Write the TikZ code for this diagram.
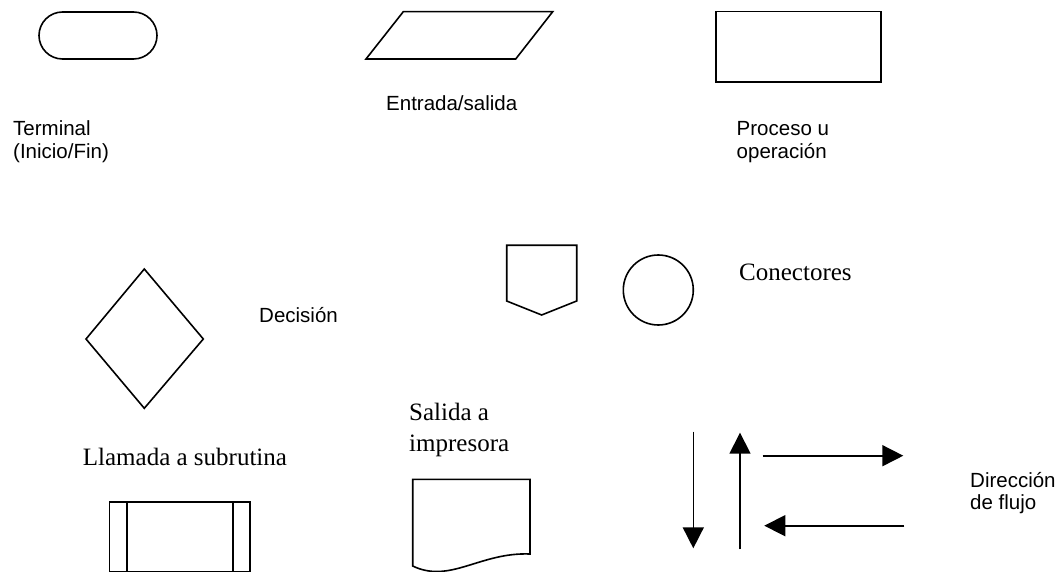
\documentclass[tikz,border=0pt]{standalone}
\usepackage{fontspec}
\setmainfont{Liberation Serif}
\newfontfamily\arialfont{Liberation Sans}
\usetikzlibrary{arrows.meta}
\tikzset{
  shape line/.style={draw=black, line width=1.6pt, line join=miter},
  sanslabel/.style={font=\arialfont\fontsize{20.5}{23.5}\selectfont, inner sep=0pt, anchor=base west, align=left},
  seriflabel/.style={font=\fontsize{25}{31}\selectfont, inner sep=0pt, anchor=base west, align=left},
  flow/.style={draw=black, line width=1.6pt, -{Triangle[length=21pt,width=21pt]}}
}
\begin{document}
\begin{tikzpicture}[x=1pt,y=-1pt]
\useasboundingbox (0,0) rectangle (1063,572);
% Terminal
\draw[shape line, rounded corners=23.5pt] (39,12) rectangle (157,59);
\node[sanslabel] (lterm) at (13,159) {Terminal\\(Inicio/Fin)};
% Entrada/salida
\coordinate (p1) at (403.3,11.7);
\coordinate (p2) at (552.7,11.7);
\coordinate (p3) at (515.7,59);
\coordinate (p4) at (366,59);
\draw[shape line] (p1) -- (p2) -- (p3) -- (p4) -- cycle;
\node[sanslabel] (lio) at (386,111) {Entrada/salida};
% Proceso
\draw[shape line] (716,11.7) rectangle (880.7,82);
\node[sanslabel] (lproc) at (736.5,159) {Proceso u\\operación};
% Decision
\coordinate (d1) at (144.3,269);
\coordinate (d2) at (203.3,339);
\coordinate (d3) at (144.3,408.3);
\coordinate (d4) at (86,339);
\draw[shape line] (d1) -- (d2) -- (d3) -- (d4) -- cycle;
\node[sanslabel] (ldec) at (259,322) {Decisión};
% Connectors
\coordinate (c1) at (506.7,245.3);
\coordinate (c2) at (576.7,245.3);
\coordinate (c3) at (576.7,301);
\coordinate (c4) at (541.7,315);
\coordinate (c5) at (506.7,301);
\draw[shape line] (c1) -- (c2) -- (c3) -- (c4) -- (c5) -- cycle;
\draw[shape line] (658.3,290) circle[radius=35];
\node[seriflabel] (lcon) at (739,280) {Conectores};
% Subrutina
\node[seriflabel] (lsub) at (82.7,465.5) {Llamada a subrutina};
\draw[shape line] (109.3,501.7) rectangle (250,571.3);
\draw[shape line] (126.7,501.7) -- (126.7,571.3);
\draw[shape line] (232.7,501.7) -- (232.7,571.3);
% Impresora
\node[seriflabel] (limp) at (409,451) {Salida a\\impresora};
\draw[shape line] (412.7,566) -- (412.7,479.3) -- (530,479.3) -- (530,554)
  .. controls (480,552) and (450,584) .. (412.7,566) -- cycle;
% Flow arrows
\coordinate (a1s) at (693.3,431.7);
\coordinate (a1e) at (693.3,548.3);
\coordinate (a2s) at (740,549.3);
\coordinate (a2e) at (740,432.7);
\coordinate (a3s) at (762.7,455.7);
\coordinate (a3e) at (903.3,455.7);
\coordinate (a4s) at (904.3,525.7);
\coordinate (a4e) at (764.3,525.7);
\draw[flow] (a1s) -- (a1e);
\draw[flow] (a2s) -- (a2e);
\draw[flow] (a3s) -- (a3e);
\draw[flow] (a4s) -- (a4e);
\node[sanslabel, font=\arialfont\fontsize{20.5}{21.5}\selectfont] (lflow) at (970,509) {Dirección\\de flujo};
\end{tikzpicture}
\end{document}
